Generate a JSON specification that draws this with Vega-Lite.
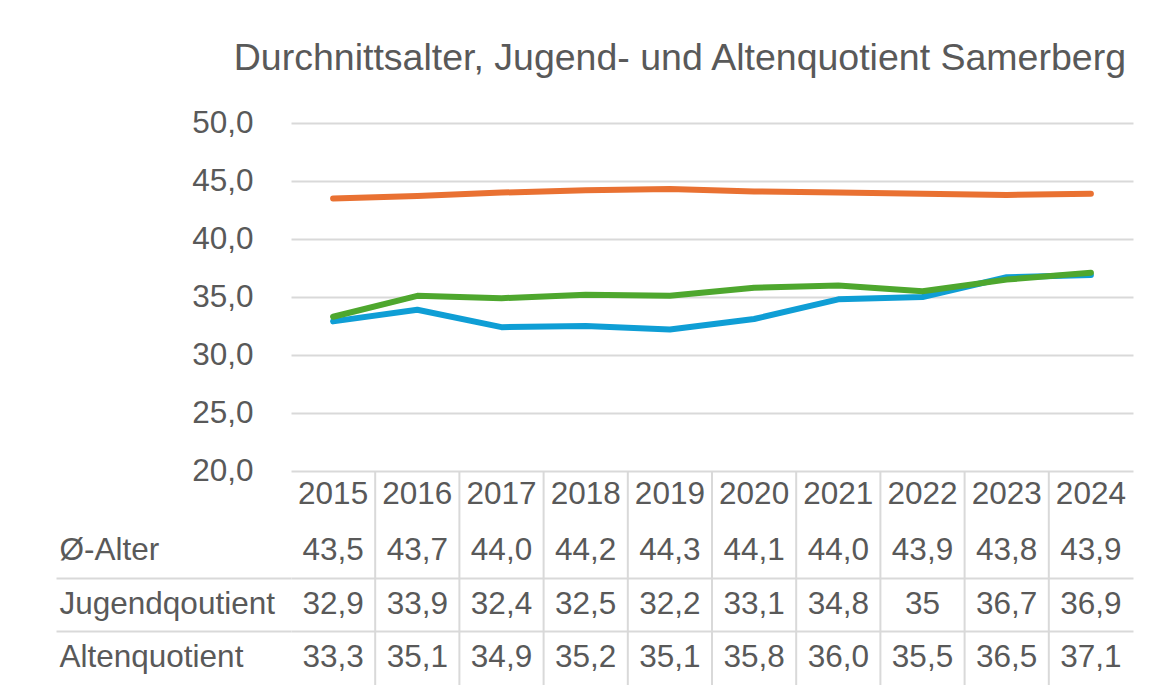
{
  "$schema": "https://vega.github.io/schema/vega-lite/v6.json",
  "padding": {"left": 55, "top": 39, "right": 25, "bottom": 9},
  "background": "white",
  "spacing": 0,
  "bounds": "flush",
  "config": {
    "view": {"stroke": null},
    "font": "Liberation Sans",
    "text": {"font": "Liberation Sans", "fontSize": 31.5, "color": "#595959"}
  },
  "datasets": {
    "d": [
      {"year": "2015", "series": "Ø-Alter", "value": 43.5, "label": "43,5"},
      {"year": "2016", "series": "Ø-Alter", "value": 43.7, "label": "43,7"},
      {"year": "2017", "series": "Ø-Alter", "value": 44.0, "label": "44,0"},
      {"year": "2018", "series": "Ø-Alter", "value": 44.2, "label": "44,2"},
      {"year": "2019", "series": "Ø-Alter", "value": 44.3, "label": "44,3"},
      {"year": "2020", "series": "Ø-Alter", "value": 44.1, "label": "44,1"},
      {"year": "2021", "series": "Ø-Alter", "value": 44.0, "label": "44,0"},
      {"year": "2022", "series": "Ø-Alter", "value": 43.9, "label": "43,9"},
      {"year": "2023", "series": "Ø-Alter", "value": 43.8, "label": "43,8"},
      {"year": "2024", "series": "Ø-Alter", "value": 43.9, "label": "43,9"},
      {"year": "2015", "series": "Jugendqoutient", "value": 32.9, "label": "32,9"},
      {"year": "2016", "series": "Jugendqoutient", "value": 33.9, "label": "33,9"},
      {"year": "2017", "series": "Jugendqoutient", "value": 32.4, "label": "32,4"},
      {"year": "2018", "series": "Jugendqoutient", "value": 32.5, "label": "32,5"},
      {"year": "2019", "series": "Jugendqoutient", "value": 32.2, "label": "32,2"},
      {"year": "2020", "series": "Jugendqoutient", "value": 33.1, "label": "33,1"},
      {"year": "2021", "series": "Jugendqoutient", "value": 34.8, "label": "34,8"},
      {"year": "2022", "series": "Jugendqoutient", "value": 35.0, "label": "35"},
      {"year": "2023", "series": "Jugendqoutient", "value": 36.7, "label": "36,7"},
      {"year": "2024", "series": "Jugendqoutient", "value": 36.9, "label": "36,9"},
      {"year": "2015", "series": "Altenquotient", "value": 33.3, "label": "33,3"},
      {"year": "2016", "series": "Altenquotient", "value": 35.1, "label": "35,1"},
      {"year": "2017", "series": "Altenquotient", "value": 34.9, "label": "34,9"},
      {"year": "2018", "series": "Altenquotient", "value": 35.2, "label": "35,2"},
      {"year": "2019", "series": "Altenquotient", "value": 35.1, "label": "35,1"},
      {"year": "2020", "series": "Altenquotient", "value": 35.8, "label": "35,8"},
      {"year": "2021", "series": "Altenquotient", "value": 36.0, "label": "36,0"},
      {"year": "2022", "series": "Altenquotient", "value": 35.5, "label": "35,5"},
      {"year": "2023", "series": "Altenquotient", "value": 36.5, "label": "36,5"},
      {"year": "2024", "series": "Altenquotient", "value": 37.1, "label": "37,1"}
    ]
  },
  "vconcat": [
    {
      "width": 842,
      "height": 348,
      "data": {"name": "d"},
      "title": {
        "text": "Durchnittsalter, Jugend- und Altenquotient Samerberg",
        "anchor": "end",
        "orient": "top",
        "baseline": "alphabetic",
        "offset": 0,
        "dx": -7,
        "font": "Liberation Sans",
        "fontSize": 37.5,
        "fontWeight": "normal",
        "color": "#595959"
      },
      "mark": {"type": "line", "strokeWidth": 6, "strokeCap": "round", "strokeJoin": "round"},
      "encoding": {
        "x": {
          "field": "year", "type": "ordinal",
          "scale": {"type": "point", "padding": 0.5},
          "axis": null
        },
        "y": {
          "field": "value", "type": "quantitative",
          "scale": {"domain": [20, 50], "nice": false, "zero": false},
          "axis": {
            "title": null,
            "values": [20, 25, 30, 35, 40, 45, 50],
            "labelExpr": "replace(format(datum.value, '.1f'), '.', ',')",
            "labelFont": "Liberation Sans",
            "labelFontSize": 31.5,
            "labelColor": "#595959",
            "labelPadding": 38,
            "ticks": false,
            "domain": false,
            "grid": true,
            "gridColor": "#D9D9D9",
            "gridWidth": 2
          }
        },
        "color": {
          "field": "series", "type": "nominal",
          "scale": {"domain": ["Ø-Alter", "Jugendqoutient", "Altenquotient"], "range": ["#E97132", "#0F9ED5", "#4EA72E"]},
          "legend": null
        },
        "order": {"field": "series", "sort": "descending"}
      }
    },
    {
      "width": 842,
      "height": 214,
      "data": {"name": "d"},
      "encoding": {
        "x": {
          "field": "year", "type": "ordinal",
          "scale": {"type": "band", "paddingInner": 0, "paddingOuter": 0},
          "axis": null
        }
      },
      "layer": [
        {
          "transform": [{"filter": "datum.series == 'Ø-Alter' && datum.year != '2015'"}],
          "mark": {"type": "rule", "color": "#D9D9D9", "strokeWidth": 2},
          "encoding": {
            "x": {"field": "year", "type": "ordinal", "bandPosition": 0}
          }
        },
        {
          "mark": {"type": "text", "align": "center", "baseline": "middle"},
          "encoding": {
            "y": {
              "field": "series", "type": "ordinal",
              "scale": {"type": "band", "domain": ["Jahr", "Ø-Alter", "Jugendqoutient", "Altenquotient"], "paddingInner": 0, "paddingOuter": 0},
              "axis": {
                "title": null,
                "bandPosition": 0,
                "domain": false,
                "labelExpr": "datum.value == 'Jahr' ? '' : datum.label",
                "labelFont": "Liberation Sans",
                "labelFontSize": 31.5,
                "labelColor": "#595959",
                "labelAlign": "left",
                "labelBaseline": "middle",
                "labelPadding": -3,
                "labelLimit": 400,
                "ticks": true,
                "tickSize": 235,
                "tickWidth": 2,
                "tickColor": {"condition": {"test": "datum.value == 'Jahr' || datum.value == 'Ø-Alter'", "value": "transparent"}, "value": "#D9D9D9"},
                "grid": true,
                "gridWidth": 2,
                "gridColor": {"condition": {"test": "datum.value == 'Jahr' || datum.value == 'Ø-Alter'", "value": "transparent"}, "value": "#D9D9D9"}
              }
            },
            "text": {"field": "label"}
          }
        },
        {
          "transform": [{"filter": "datum.series == 'Ø-Alter'"}],
          "mark": {"type": "text", "align": "center", "baseline": "middle", "dy": -3},
          "encoding": {
            "y": {"datum": "Jahr", "type": "ordinal"},
            "text": {"field": "year"}
          }
        }
      ]
    }
  ]
}
